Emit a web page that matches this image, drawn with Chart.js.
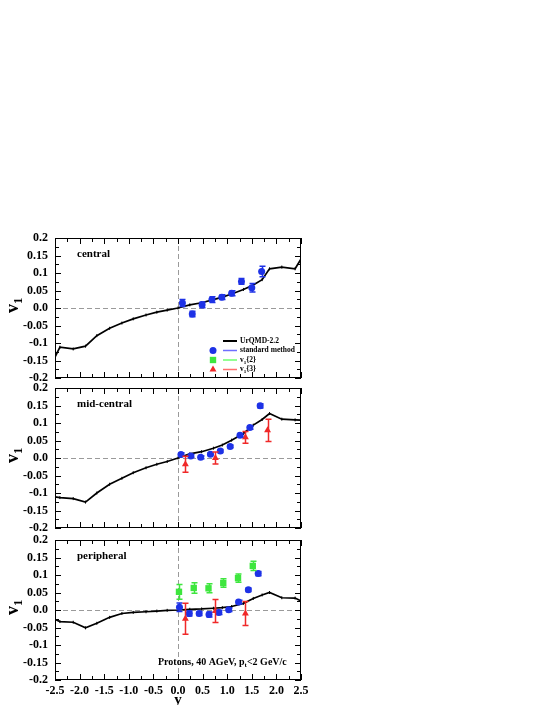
<!DOCTYPE html>
<html>
<head>
<meta charset="utf-8">
<script src="https://cdn.jsdelivr.net/npm/chart.js@4/dist/chart.umd.min.js"></script>
<style>
  html, body { margin: 0; background: #fff; }
  body { width: 545px; height: 705px; position: relative; overflow: hidden; }
  canvas { position: absolute; left: 0; }
</style>
</head>
<body>
<canvas id="central" style="top:228px" width="545" height="160"></canvas>
<canvas id="midcentral" style="top:378px" width="545" height="160"></canvas>
<canvas id="peripheral" style="top:530px" width="545" height="175"></canvas>
<script>
// ---- data ----
var urqmdRap = [-2.5, -2.4, -2.13, -1.88, -1.65, -1.39, -1.14, -0.91, -0.65, -0.43, -0.22, 0,
                0.24, 0.48, 0.72, 0.9, 1.09, 1.33, 1.53, 1.71, 1.86, 2.11, 2.38, 2.5];
var urqmdCentral = [-0.14, -0.112, -0.117, -0.109, -0.079, -0.058, -0.043, -0.031, -0.020, -0.012, -0.006, 0,
                    0.009, 0.015, 0.024, 0.031, 0.040, 0.053, 0.066, 0.081, 0.112, 0.117, 0.112, 0.14];
var urqmdMid = [-0.111, -0.113, -0.116, -0.126, -0.100, -0.075, -0.058, -0.042, -0.028, -0.018, -0.010, 0,
                0.012, 0.018, 0.028, 0.037, 0.051, 0.070, 0.094, 0.110, 0.127, 0.111, 0.109, 0.108];
var urqmdPeri = [-0.027, -0.033, -0.035, -0.051, -0.038, -0.021, -0.010, -0.007, -0.005, -0.003, -0.001, 0,
                 0.002, 0.003, 0.005, 0.007, 0.010, 0.019, 0.033, 0.043, 0.050, 0.035, 0.034, 0.026];

var stdRapCentral = [0.09, 0.29, 0.49, 0.69, 0.89, 1.09, 1.29, 1.50, 1.70];
var stdCentral    = [0.014, -0.017, 0.009, 0.024, 0.031, 0.042, 0.076, 0.058, 0.104];
var stdErrCentral = [0.010, 0.008, 0.008, 0.008, 0.007, 0.007, 0.008, 0.012, 0.015];

var stdRapMid = [0.06, 0.26, 0.46, 0.66, 0.86, 1.06, 1.26, 1.46, 1.67];
var stdMid    = [0.010, 0.006, 0.002, 0.011, 0.020, 0.033, 0.065, 0.087, 0.149];
var stdErrMid = [0.005, 0.004, 0.004, 0.004, 0.004, 0.004, 0.005, 0.005, 0.006];
var v13RapMid = [0.15, 0.76, 1.37, 1.82];
var v13Mid    = [-0.018, 0.000, 0.059, 0.079];
var v13ErrMid = [0.023, 0.017, 0.017, 0.032];

var stdRapPeri = [0.03, 0.23, 0.43, 0.63, 0.83, 1.03, 1.23, 1.43, 1.63];
var stdPeri    = [0.008, -0.010, -0.010, -0.013, -0.007, 0.001, 0.023, 0.058, 0.104];
var stdErrPeri = [0.012, 0.007, 0.006, 0.007, 0.006, 0.005, 0.005, 0.005, 0.006];
var v12RapPeri = [0.02, 0.32, 0.62, 0.92, 1.22, 1.52];
var v12Peri    = [0.052, 0.063, 0.062, 0.077, 0.091, 0.126];
var v12ErrPeri = [0.021, 0.015, 0.013, 0.012, 0.012, 0.013];
var v13RapPeri = [0.15, 0.76, 1.37];
var v13Peri    = [-0.025, -0.003, -0.010];
var v13ErrPeri = [0.044, 0.033, 0.034];

var xTickValues = [-2.5, -2.0, -1.5, -1.0, -0.5, 0, 0.5, 1.0, 1.5, 2.0, 2.5];
var xTickLabels = ['-2.5', '-2.0', '-1.5', '-1.0', '-0.5', '0.0', '0.5', '1.0', '1.5', '2.0', '2.5'];
var yTickValues = [-0.2, -0.15, -0.1, -0.05, 0, 0.05, 0.1, 0.15, 0.2];
var yTickLabels = ['-0.2', '-0.15', '-0.1', '-0.05', '0.0', '0.05', '0.1', '0.15', '0.2'];

var legendLabels = ['UrQMD-2.2', 'standard method', 'v1{2}', 'v1{3}'];

// ---- styling ----
var SERIF = '"Liberation Serif", "DejaVu Serif", serif';
var BLUE = '#1e32e6', GREEN = '#3ee63e', RED = '#f02828';
var BLUE_L = '#6e6eff', GREEN_L = '#6eff6e', RED_L = '#ff6e6e';

Chart.defaults.font.family = SERIF;
Chart.defaults.font.weight = 'bold';
Chart.defaults.color = '#000';

function pts(xs, ys) {
  return xs.map(function(x, i) { return { x: x, y: ys[i] }; });
}

// draw a run of text pieces, [text, isSubscript]
function drawRich(ctx, parts, x, y, size) {
  var cx = x;
  parts.forEach(function(p) {
    var sub = p[1];
    ctx.font = 'bold ' + (sub ? Math.round(size * 0.7) : size) + 'px ' + SERIF;
    ctx.fillText(p[0], cx, sub ? y + size * 0.3 : y);
    cx += ctx.measureText(p[0]).width;
  });
}

function urqmdSet(values) {
  return {
    label: legendLabels[0], data: pts(urqmdRap, values), showLine: true,
    borderColor: '#000', borderWidth: 1.7, backgroundColor: '#000',
    pointStyle: 'line', pointRotation: 90, pointRadius: 1.5, pointBorderWidth: 1, order: 5
  };
}
function markSet(label, xs, ys, errs, color, style, radius) {
  return {
    label: label, data: pts(xs, ys), errors: errs, showLine: false,
    backgroundColor: color, borderColor: color, pointStyle: style,
    pointRadius: radius, pointBorderWidth: 0, order: 1
  };
}

var framePlugin = {
  id: 'frame',
  beforeDatasetsDraw: function(chart) {
    var ctx = chart.ctx, a = chart.chartArea, xs = chart.scales.x, ys = chart.scales.y;
    ctx.save();
    // dashed zero lines
    ctx.strokeStyle = '#9a9a9a';
    ctx.lineWidth = 1;
    ctx.setLineDash([5, 3]);
    var y0 = Math.round(ys.getPixelForValue(0)) + 0.5;
    var x0 = Math.round(xs.getPixelForValue(0)) + 0.5;
    ctx.beginPath();
    ctx.moveTo(a.left, y0); ctx.lineTo(a.right, y0);
    ctx.moveTo(x0, a.top); ctx.lineTo(x0, a.bottom);
    ctx.stroke();
    ctx.restore();
  },
  afterDatasetsDraw: function(chart) {
    var ctx = chart.ctx, a = chart.chartArea, xs = chart.scales.x, ys = chart.scales.y;
    ctx.save();
    // error bars
    chart.data.datasets.forEach(function(ds) {
      if (!ds.errors) return;
      ctx.strokeStyle = ds.borderColor;
      ctx.lineWidth = 1.5;
      ds.data.forEach(function(p, i) {
        var px = Math.round(xs.getPixelForValue(p.x)) + 0.5;
        var hi = ys.getPixelForValue(p.y + ds.errors[i]);
        var lo = ys.getPixelForValue(p.y - ds.errors[i]);
        ctx.beginPath();
        ctx.moveTo(px, hi); ctx.lineTo(px, lo);
        ctx.moveTo(px - 3, hi); ctx.lineTo(px + 3, hi);
        ctx.moveTo(px - 3, lo); ctx.lineTo(px + 3, lo);
        ctx.stroke();
      });
    });
    // frame and inward ticks on all sides
    ctx.strokeStyle = '#000';
    ctx.lineWidth = 1;
    ctx.strokeRect(a.left + 0.5, a.top + 0.5, a.right - a.left - 1, a.bottom - a.top - 1);
    ctx.beginPath();
    for (var k = 0; k <= 20; k++) {
      var vx = -2.5 + k * 0.25;
      var tx = Math.round(xs.getPixelForValue(vx)) + 0.5;
      var lx = k % 2 === 0 ? 6 : 4;
      ctx.moveTo(tx, a.bottom); ctx.lineTo(tx, a.bottom - lx);
      ctx.moveTo(tx, a.top); ctx.lineTo(tx, a.top + lx);
    }
    for (var j = 0; j <= 16; j++) {
      var vy = -0.2 + j * 0.025;
      var ty = Math.round(ys.getPixelForValue(vy)) + 0.5;
      var ly = j % 2 === 0 ? 6 : 4;
      ctx.moveTo(a.left, ty); ctx.lineTo(a.left + ly, ty);
      ctx.moveTo(a.right, ty); ctx.lineTo(a.right - ly, ty);
    }
    ctx.stroke();

    var o = chart.options.plugins.frame;
    ctx.fillStyle = '#000';
    ctx.textBaseline = 'middle';
    // panel name
    ctx.font = 'bold 11px ' + SERIF;
    ctx.fillText(o.name, a.left + 22, a.top + 16);
    // y axis title v_1
    ctx.save();
    ctx.translate(13, (a.top + a.bottom) / 2 - 3);
    ctx.rotate(-Math.PI / 2);
    ctx.textAlign = 'left';
    drawRich(ctx, [['v', false], ['1', true]], -8, 0, 18);
    ctx.restore();

    if (o.legend) {
      var rows = [
        { line: '#000', mark: null, text: [['UrQMD-2.2', false]] },
        { line: BLUE_L, mark: { c: BLUE, s: 'circle', r: 3.5 }, text: [['standard method', false]] },
        { line: GREEN_L, mark: { c: GREEN, s: 'rect', r: 4.5 }, text: [['v', false], ['1', true], ['{2}', false]] },
        { line: RED_L, mark: { c: RED, s: 'triangle', r: 4 }, text: [['v', false], ['1', true], ['{3}', false]] }
      ];
      rows.forEach(function(r, i) {
        var ry = a.top + 103 + i * 9.5;
        ctx.strokeStyle = r.line;
        ctx.lineWidth = i === 0 ? 2 : 1.5;
        ctx.beginPath();
        ctx.moveTo(a.left + 168, ry); ctx.lineTo(a.left + 182, ry);
        ctx.stroke();
        if (r.mark) {
          ctx.fillStyle = r.mark.c;
          ctx.strokeStyle = r.mark.c;
          Chart.helpers.drawPoint(ctx, { pointStyle: r.mark.s, radius: r.mark.r, rotation: 0, borderWidth: 0 },
                                  a.left + 158, ry);
        }
        ctx.fillStyle = '#000';
        drawRich(ctx, r.text, a.left + 185, ry, 7.5);
      });
    }
    if (o.note) {
      drawRich(ctx, [['Protons, 40 AGeV, p', false], ['t', true], ['<2 GeV/c', false]],
               a.left + 103, a.bottom - 18, 10);
    }
    if (o.xTitle) {
      ctx.textAlign = 'center';
      ctx.font = 'bold 15px ' + SERIF;
      ctx.fillText('y', xs.getPixelForValue(0), a.bottom + 20);
    }
    ctx.restore();
  }
};

function makePanel(id, datasets, opt) {
  new Chart(document.getElementById(id), {
    type: 'scatter',
    data: { datasets: datasets },
    plugins: [framePlugin],
    options: {
      responsive: false,
      animation: false,
      events: [],
      layout: { padding: { top: 10, left: 0, right: 244, bottom: 0 } },
      plugins: {
        legend: { display: false },
        tooltip: { enabled: false },
        frame: opt
      },
      scales: {
        x: {
          type: 'linear', min: -2.5, max: 2.5,
          grid: { display: false, drawTicks: false },
          border: { display: false },
          afterBuildTicks: function(s) { s.ticks = xTickValues.map(function(v) { return { value: v }; }); },
          afterFit: function(s) { s.height = opt.xHeight; },
          ticks: {
            display: !!opt.xLabels, autoSkip: false, maxRotation: 0, padding: 4,
            font: { size: 12, weight: 'bold' },
            callback: function(v, i) { return xTickLabels[i]; }
          }
        },
        y: {
          type: 'linear', min: -0.2, max: 0.2,
          grid: { display: false, drawTicks: false },
          border: { display: false },
          afterBuildTicks: function(s) { s.ticks = yTickValues.map(function(v) { return { value: v }; }); },
          afterFit: function(s) { s.width = 55; s.paddingTop = 0; s.paddingBottom = 0; },
          ticks: {
            autoSkip: false, padding: 7,
            font: { size: 12, weight: 'bold' },
            callback: function(v, i) { return yTickLabels[i]; }
          }
        }
      }
    }
  });
}

makePanel('central', [
  markSet(legendLabels[1], stdRapCentral, stdCentral, stdErrCentral, BLUE, 'circle', 3.5),
  urqmdSet(urqmdCentral)
], { name: 'central', legend: true, xHeight: 10 });

makePanel('midcentral', [
  markSet(legendLabels[1], stdRapMid, stdMid, stdErrMid, BLUE, 'circle', 3.5),
  markSet(legendLabels[3], v13RapMid, v13Mid, v13ErrMid, RED, 'triangle', 4),
  urqmdSet(urqmdMid)
], { name: 'mid-central', xHeight: 10 });

makePanel('peripheral', [
  markSet(legendLabels[1], stdRapPeri, stdPeri, stdErrPeri, BLUE, 'circle', 3.5),
  markSet(legendLabels[2], v12RapPeri, v12Peri, v12ErrPeri, GREEN, 'rect', 4.5),
  markSet(legendLabels[3], v13RapPeri, v13Peri, v13ErrPeri, RED, 'triangle', 4),
  urqmdSet(urqmdPeri)
], { name: 'peripheral', note: true, xTitle: true, xLabels: true, xHeight: 25 });
</script>
</body>
</html>
